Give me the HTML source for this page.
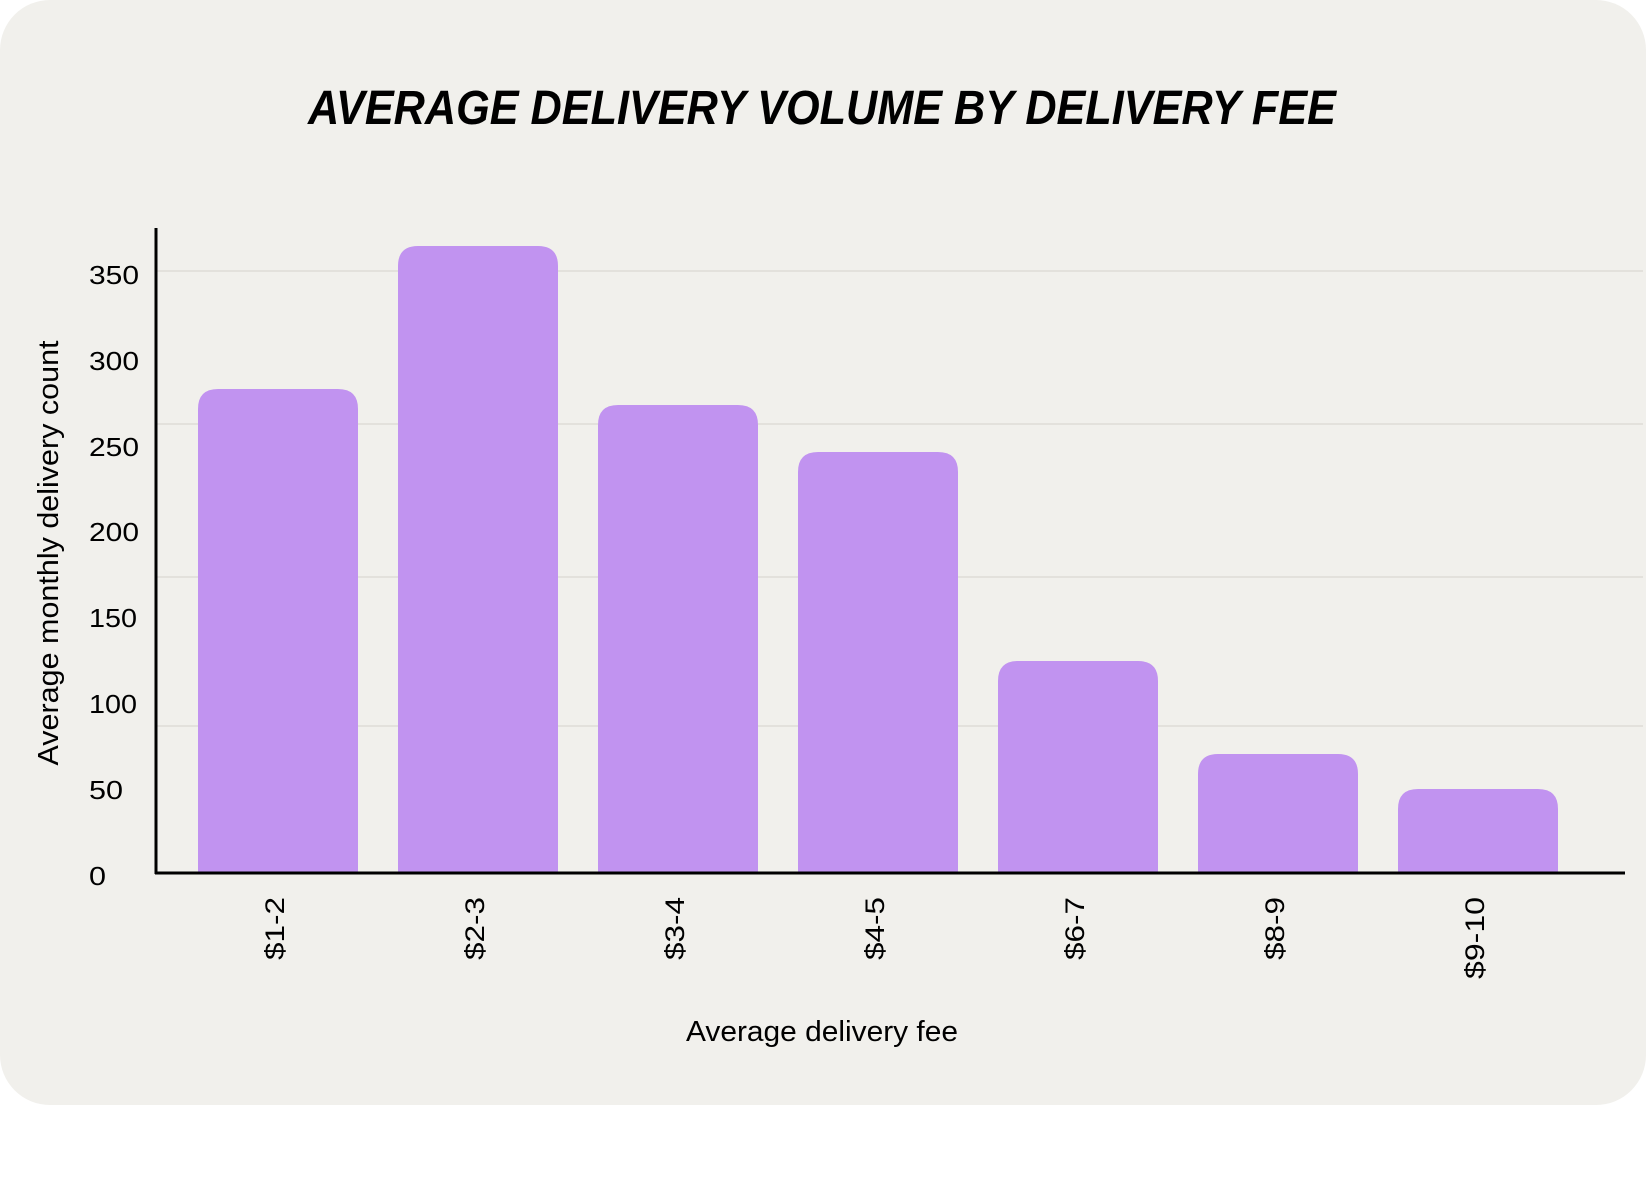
<!DOCTYPE html>
<html><head><meta charset="utf-8"><style>
html,body{margin:0;padding:0;background:#fff;}
svg{display:block;}
text{font-family:"Liberation Sans",sans-serif;fill:#000;}
</style></head><body>
<svg width="1646" height="1177" viewBox="0 0 1646 1177" xmlns="http://www.w3.org/2000/svg">
<rect x="0" y="0" width="1646" height="1105" rx="50" ry="50" fill="#f1f0ec"/>
<text x="822" y="124" text-anchor="middle" font-size="48" font-weight="bold" font-style="italic" textLength="1028" lengthAdjust="spacingAndGlyphs">AVERAGE DELIVERY VOLUME BY DELIVERY FEE</text>
<g stroke="#e3e1dc" stroke-width="2">
<line x1="157" y1="271" x2="1643" y2="271"/>
<line x1="157" y1="424" x2="1643" y2="424"/>
<line x1="157" y1="577" x2="1643" y2="577"/>
<line x1="157" y1="726" x2="1643" y2="726"/>
</g>
<g fill="#c193f0">
<path d="M198,874 V409 Q198,389 218,389 H338 Q358,389 358,409 V874 Z"/>
<path d="M398,874 V266 Q398,246 418,246 H538 Q558,246 558,266 V874 Z"/>
<path d="M598,874 V425 Q598,405 618,405 H738 Q758,405 758,425 V874 Z"/>
<path d="M798,874 V472 Q798,452 818,452 H938 Q958,452 958,472 V874 Z"/>
<path d="M998,874 V681 Q998,661 1018,661 H1138 Q1158,661 1158,681 V874 Z"/>
<path d="M1198,874 V774 Q1198,754 1218,754 H1338 Q1358,754 1358,774 V874 Z"/>
<path d="M1398,874 V809 Q1398,789 1418,789 H1538 Q1558,789 1558,809 V874 Z"/>
</g>
<line x1="156" y1="228" x2="156" y2="874" stroke="#000" stroke-width="3"/>
<line x1="155" y1="873" x2="1625" y2="873" stroke="#000" stroke-width="3"/>
<g font-size="26">
<text x="89" y="284" textLength="50" lengthAdjust="spacingAndGlyphs">350</text>
<text x="89" y="370" textLength="50" lengthAdjust="spacingAndGlyphs">300</text>
<text x="89" y="456" textLength="50" lengthAdjust="spacingAndGlyphs">250</text>
<text x="89" y="541" textLength="50" lengthAdjust="spacingAndGlyphs">200</text>
<text x="89" y="627" textLength="48" lengthAdjust="spacingAndGlyphs">150</text>
<text x="89" y="713" textLength="48" lengthAdjust="spacingAndGlyphs">100</text>
<text x="89" y="799" textLength="34" lengthAdjust="spacingAndGlyphs">50</text>
<text x="89" y="885" textLength="17" lengthAdjust="spacingAndGlyphs">0</text>
</g>
<g font-size="27" text-anchor="end">
<text transform="translate(284,897) rotate(-90)" textLength="63" lengthAdjust="spacingAndGlyphs">$1-2</text>
<text transform="translate(484,897) rotate(-90)" textLength="63" lengthAdjust="spacingAndGlyphs">$2-3</text>
<text transform="translate(684,897) rotate(-90)" textLength="63" lengthAdjust="spacingAndGlyphs">$3-4</text>
<text transform="translate(884,897) rotate(-90)" textLength="63" lengthAdjust="spacingAndGlyphs">$4-5</text>
<text transform="translate(1084,897) rotate(-90)" textLength="63" lengthAdjust="spacingAndGlyphs">$6-7</text>
<text transform="translate(1284,897) rotate(-90)" textLength="63" lengthAdjust="spacingAndGlyphs">$8-9</text>
<text transform="translate(1484,897) rotate(-90)" textLength="82" lengthAdjust="spacingAndGlyphs">$9-10</text>
</g>
<text x="822" y="1041" text-anchor="middle" font-size="29" textLength="272" lengthAdjust="spacingAndGlyphs">Average delivery fee</text>
<text transform="translate(58,553) rotate(-90)" text-anchor="middle" font-size="29" textLength="425" lengthAdjust="spacingAndGlyphs">Average monthly delivery count</text>
</svg>
</body></html>
